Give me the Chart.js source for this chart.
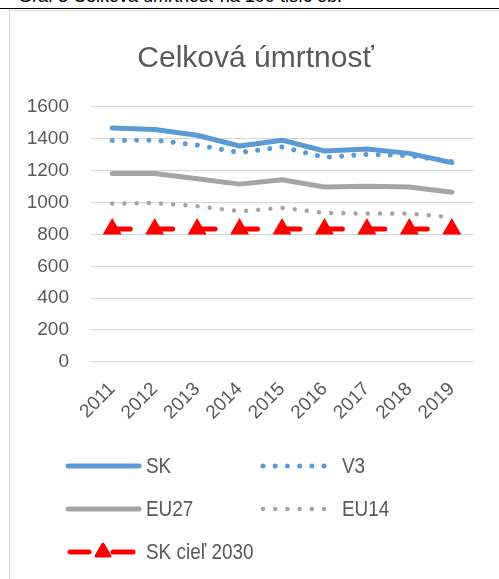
<!DOCTYPE html>
<html>
<head>
<meta charset="utf-8">
<script src="https://cdn.jsdelivr.net/npm/chart.js@4"></script>
<style>
  body { margin: 0; background: #fff; }
  #wrap { position: relative; width: 499px; height: 579px; overflow: hidden; }
  #cap { position: absolute; left: 18px; top: -13px; font: 18px/1 "Liberation Sans", Arial, sans-serif; color: #000; white-space: nowrap; }
  #rule { position: absolute; left: 0; top: 8px; width: 499px; height: 1px; background: #000; }
  #box { position: absolute; left: 9px; top: 10px; width: 520px; height: 600px; border: 1px solid #d9d9d9; box-sizing: border-box; }
  #c { position: absolute; left: 0; top: 0; }
</style>
</head>
<body>
<div id="wrap">
  <div id="cap">Graf 3 Celková úmrtnosť na 100 tisíc ob.</div>
  <div id="rule"></div>
  <div id="box"></div>
  <canvas id="c" width="499" height="579"></canvas>
</div>
<script>
var years = ['2011', '2012', '2013', '2014', '2015', '2016', '2017', '2018', '2019'];
var sk = [1469, 1459, 1423, 1355, 1392, 1324, 1337, 1309, 1251];
var v3 = [1390, 1392, 1361, 1314, 1349, 1284, 1303, 1295, 1258];
var eu27 = [1183, 1183, 1150, 1116, 1143, 1098, 1102, 1098, 1065];
var eu14 = [994, 998, 977, 946, 967, 936, 931, 931, 909];
var skGoal = [835, 835, 835, 835, 835, 835, 835, 835, 835];
var yTicks = [0, 200, 400, 600, 800, 1000, 1200, 1400, 1600];

var txt = '#595959';
var font = '"Liberation Sans", Arial, sans-serif';

// title sits a bit right of the canvas centre in the original
var titleShift = {
  id: 'titleShift',
  afterLayout: function(chart) {
    var t = chart.titleBlock;
    t.left += 19;
    t.right += 19;
  }
};

// legend drawn by hand, two columns like the original
var legendPlugin = {
  id: 'twoColLegend',
  afterDraw: function(chart) {
    var ctx = chart.ctx;
    var rows = [
      [0, 68, 139, 146, 466], [1, 263, 330, 342, 466],
      [2, 68, 139, 146, 509], [3, 263, 330, 342, 509],
      [4, 68, 133, 146, 552]
    ];
    ctx.save();
    rows.forEach(function(r) {
      var ds = chart.data.datasets[r[0]];
      var y = r[4];
      ctx.strokeStyle = ds.borderColor;
      ctx.lineWidth = ds.borderWidth;
      ctx.lineCap = 'round';
      if (r[0] == 4) {
        ctx.setLineDash([]);
        ctx.beginPath();
        ctx.moveTo(r[1] + 2, y); ctx.lineTo(r[1] + 21, y);
        ctx.moveTo(r[2] - 20, y); ctx.lineTo(r[2], y);
        ctx.stroke();
        ctx.fillStyle = ds.borderColor;
        ctx.lineJoin = 'round';
        ctx.lineWidth = 3;
        var cx = 103, rr = 8;
        ctx.beginPath();
        ctx.moveTo(cx, y - rr);
        ctx.lineTo(cx + rr * 0.866, y + rr / 2);
        ctx.lineTo(cx - rr * 0.866, y + rr / 2);
        ctx.closePath();
        ctx.fill(); ctx.stroke();
      } else {
        ctx.setLineDash(ds.borderDash || []);
        ctx.beginPath();
        ctx.moveTo(r[1], y); ctx.lineTo(r[2], y);
        ctx.stroke();
      }
      ctx.setLineDash([]);
      // taller, slightly condensed text as in the picture
      ctx.save();
      ctx.translate(r[3], y + 1);
      ctx.scale(0.86, 1);
      ctx.fillStyle = txt;
      ctx.font = '22px ' + font;
      ctx.textBaseline = 'middle';
      ctx.fillText(ds.label, 0, 0);
      ctx.restore();
    });
    ctx.restore();
  }
};

var ctx = document.getElementById('c').getContext('2d');
var chart = new Chart(ctx, {
  type: 'line',
  data: {
    labels: years,
    datasets: [
      { label: 'SK', data: sk, borderColor: '#5B9BD5', borderWidth: 5, pointRadius: 0, borderCapStyle: 'round', borderJoinStyle: 'round' },
      { label: 'V3', data: v3, borderColor: '#5B9BD5', borderWidth: 5, pointRadius: 0, borderDash: [0.01, 12.2], borderCapStyle: 'round' },
      { label: 'EU27', data: eu27, borderColor: '#A5A5A5', borderWidth: 5, pointRadius: 0, borderCapStyle: 'round', borderJoinStyle: 'round' },
      { label: 'EU14', data: eu14, borderColor: '#A5A5A5', borderWidth: 4.5, pointRadius: 0, borderDash: [0.01, 12.2], borderCapStyle: 'round' },
      { label: 'SK cieľ 2030', data: skGoal, borderColor: '#FF0000', backgroundColor: '#FF0000', borderWidth: 5,
        borderDash: [18, 24.44], borderCapStyle: 'round',
        pointStyle: 'triangle', pointRadius: 8, pointBorderWidth: 3, pointBackgroundColor: '#FF0000', pointBorderColor: '#FF0000' }
    ]
  },
  options: {
    responsive: false,
    animation: false,
    layout: { padding: { left: 0, right: 26, top: 0, bottom: 145 } },
    plugins: {
      legend: { display: false },
      tooltip: { enabled: false },
      title: {
        display: true,
        text: 'Celková úmrtnosť',
        color: txt,
        font: { family: font, size: 30, weight: 'normal' },
        padding: { top: 41, bottom: 30 }
      }
    },
    scales: {
      x: {
        offset: true,
        grid: { display: false },
        border: { display: false },
        ticks: { color: txt, font: { family: font, size: 19 }, maxRotation: 45, minRotation: 45, padding: 8 },
        afterFit: function(s) { s.height = 72; }
      },
      y: {
        min: 0, max: 1600,
        afterBuildTicks: function(s) { s.ticks = yTicks.map(function(v) { return { value: v }; }); },
        grid: { color: '#d9d9d9', lineWidth: 1.3, drawTicks: false },
        border: { display: false },
        ticks: { color: txt, font: { family: font, size: 19 }, padding: 22, callback: function(v) { return String(v); } },
        afterFit: function(s) { s.width = 91; }
      }
    }
  },
  plugins: [titleShift, legendPlugin]
});
</script>
</body>
</html>
